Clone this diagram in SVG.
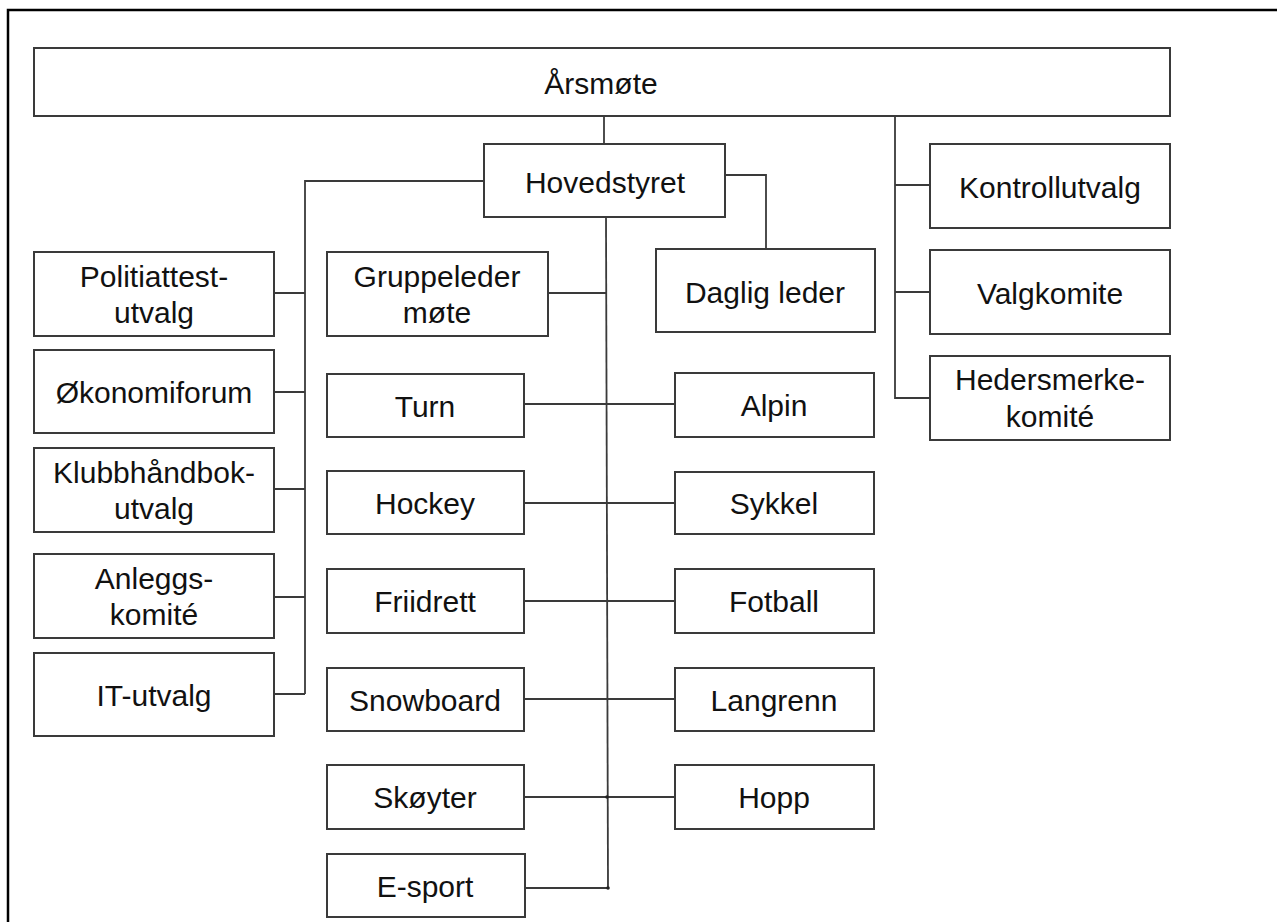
<svg xmlns="http://www.w3.org/2000/svg" width="1277" height="922" viewBox="0 0 1277 922">
<style>
.box{fill:#fff;stroke:#3a3a3a;stroke-width:2}
.t{font-family:"Liberation Sans",Arial,sans-serif;font-size:30px;fill:#111;text-anchor:middle}
.c{fill:none;stroke:#3a3a3a;stroke-width:1.8}
.frame{fill:none;stroke:#000;stroke-width:2.5}
</style>
<rect width="1277" height="922" fill="#fff"/>
<path class="frame" d="M8,922 V10 H1277"/>
<g id="connectors">
<path class="c" d="M604,116 V144"/>
<path class="c" d="M606,217 L608,888"/>
<path class="c" d="M548,293 H606"/>
<path class="c" d="M524,404 H675"/>
<path class="c" d="M524,503 H675"/>
<path class="c" d="M524,601 H675"/>
<path class="c" d="M524,699 H675"/>
<path class="c" d="M524,797 H675"/>
<path class="c" d="M525,888 H608"/>
<path class="c" d="M725,175 H766 V249"/>
<path class="c" d="M484,181 H305 V694"/>
<path class="c" d="M274,293 H305 M274,392 H305 M274,489 H305 M274,597 H305 M274,694 H305"/>
<path class="c" d="M895,116 V398 H930 M895,185 H930 M895,292 H930"/>
<circle cx="607" cy="797" r="1.8" fill="#222"/>
<circle cx="608" cy="888" r="1.8" fill="#222"/>
</g>
<g id="arsmote"><rect class="box" x="34" y="48" width="1136" height="68"/><text class="t" x="601" y="94">Årsmøte</text></g>
<g id="hovedstyret"><rect class="box" x="484" y="144" width="241" height="73"/><text class="t" x="605" y="193">Hovedstyret</text></g>
<g id="kontrollutvalg"><rect class="box" x="930" y="144" width="240" height="84"/><text class="t" x="1050" y="198">Kontrollutvalg</text></g>
<g id="valgkomite"><rect class="box" x="930" y="250" width="240" height="84"/><text class="t" x="1050" y="304">Valgkomite</text></g>
<g id="hedersmerke"><rect class="box" x="930" y="356" width="240" height="84"/><text class="t" x="1050" y="390">Hedersmerke-</text><text class="t" x="1050" y="427">komité</text></g>
<g id="daglig-leder"><rect class="box" x="656" y="249" width="219" height="83"/><text class="t" x="765" y="303">Daglig leder</text></g>
<g id="gruppeleder"><rect class="box" x="327" y="252" width="221" height="84"/><text class="t" x="437" y="287">Gruppeleder</text><text class="t" x="437" y="323">møte</text></g>
<g id="politiattest"><rect class="box" x="34" y="252" width="240" height="84"/><text class="t" x="154" y="287">Politiattest-</text><text class="t" x="154" y="323">utvalg</text></g>
<g id="okonomiforum"><rect class="box" x="34" y="350" width="240" height="83"/><text class="t" x="154" y="403">Økonomiforum</text></g>
<g id="klubbhandbok"><rect class="box" x="34" y="448" width="240" height="84"/><text class="t" x="154" y="483">Klubbhåndbok-</text><text class="t" x="154" y="519">utvalg</text></g>
<g id="anleggs"><rect class="box" x="34" y="554" width="240" height="84"/><text class="t" x="154" y="589">Anleggs-</text><text class="t" x="154" y="625">komité</text></g>
<g id="it-utvalg"><rect class="box" x="34" y="653" width="240" height="83"/><text class="t" x="154" y="706">IT-utvalg</text></g>
<g id="turn"><rect class="box" x="327" y="374" width="197" height="63"/><text class="t" x="425" y="417">Turn</text></g>
<g id="hockey"><rect class="box" x="327" y="471" width="197" height="63"/><text class="t" x="425" y="514">Hockey</text></g>
<g id="friidrett"><rect class="box" x="327" y="569" width="197" height="64"/><text class="t" x="425" y="612">Friidrett</text></g>
<g id="snowboard"><rect class="box" x="327" y="668" width="197" height="63"/><text class="t" x="425" y="711">Snowboard</text></g>
<g id="skoyter"><rect class="box" x="327" y="765" width="197" height="64"/><text class="t" x="425" y="808">Skøyter</text></g>
<g id="e-sport"><rect class="box" x="327" y="854" width="198" height="63"/><text class="t" x="425" y="897">E-sport</text></g>
<g id="alpin"><rect class="box" x="675" y="373" width="199" height="64"/><text class="t" x="774" y="416">Alpin</text></g>
<g id="sykkel"><rect class="box" x="675" y="472" width="199" height="62"/><text class="t" x="774" y="514">Sykkel</text></g>
<g id="fotball"><rect class="box" x="675" y="569" width="199" height="64"/><text class="t" x="774" y="612">Fotball</text></g>
<g id="langrenn"><rect class="box" x="675" y="668" width="199" height="63"/><text class="t" x="774" y="711">Langrenn</text></g>
<g id="hopp"><rect class="box" x="675" y="765" width="199" height="64"/><text class="t" x="774" y="808">Hopp</text></g>
</svg>
